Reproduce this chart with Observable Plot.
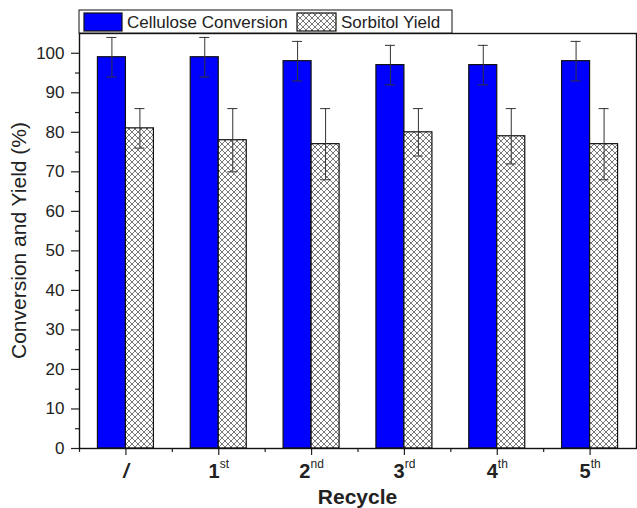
<!DOCTYPE html>
<html>
<head>
<meta charset="utf-8">
<script src="https://cdn.jsdelivr.net/npm/d3@7"></script>
<script src="https://cdn.jsdelivr.net/npm/@observablehq/plot@0.6"></script>
<style>
  html, body { margin: 0; padding: 0; background: white; }
</style>
</head>
<body>
<div id="chart"></div>
<script>
const categories = ["/", "1st", "2nd", "3rd", "4th", "5th"];
const conversion = [99, 99, 98, 97, 97, 98];
const conversionErr = [5, 5, 5, 5, 5, 5];
const sorbitol = [81, 78, 77, 80, 79, 77];
const sorbitolErr = [5, 8, 9, 6, 7, 9];
const seriesNames = ["Cellulose Conversion", "Sorbitol Yield"];
const yTicks = [0, 10, 20, 30, 40, 50, 60, 70, 80, 90, 100];
const yMinorTicks = [5, 15, 25, 35, 45, 55, 65, 75, 85, 95];
const yLabel = "Conversion and Yield (%)";
const xLabel = "Recycle";

const rows = categories.map((c, i) => ({
  cat: c, conv: conversion[i], convErr: conversionErr[i],
  sorb: sorbitol[i], sorbErr: sorbitolErr[i]
}));

const W = 637, H = 508, ML = 79, MR = 1, MT = 33, MB = 60;
const bw = (W - ML - MR) / categories.length;
const barW = 28, capHalf = 5;
const FONT = "'Liberation Sans', Arial, sans-serif";
const HATCH = "url(#hatch)";

const svg = Plot.plot({
  width: W, height: H,
  marginLeft: ML, marginRight: MR, marginTop: MT, marginBottom: MB,
  style: { fontFamily: FONT, background: "white", color: "#222" },
  x: { domain: categories, padding: 0, round: false, label: null },
  y: { domain: [0, 105], label: null },
  marks: [
    Plot.barY(rows, { x: "cat", y: "conv", fill: "#0000ff", stroke: "#111", strokeWidth: 1.2,
      insetLeft: bw / 2 - barW, insetRight: bw / 2 }),
    Plot.barY(rows, { x: "cat", y: "sorb", fill: HATCH, stroke: "#111", strokeWidth: 1.2,
      insetLeft: bw / 2, insetRight: bw / 2 - barW }),
    Plot.ruleX(rows, { x: "cat", y1: d => d.conv - d.convErr, y2: d => d.conv + d.convErr,
      dx: -barW / 2, stroke: "#333", strokeWidth: 1 }),
    Plot.tickY(rows, { x: "cat", y: d => d.conv + d.convErr, stroke: "#333", strokeWidth: 1,
      insetLeft: bw / 2 - barW / 2 - capHalf, insetRight: bw / 2 + barW / 2 - capHalf }),
    Plot.tickY(rows, { x: "cat", y: d => d.conv - d.convErr, stroke: "#333", strokeWidth: 1,
      insetLeft: bw / 2 - barW / 2 - capHalf, insetRight: bw / 2 + barW / 2 - capHalf }),
    Plot.ruleX(rows, { x: "cat", y1: d => d.sorb - d.sorbErr, y2: d => d.sorb + d.sorbErr,
      dx: barW / 2, stroke: "#333", strokeWidth: 1 }),
    Plot.tickY(rows, { x: "cat", y: d => d.sorb + d.sorbErr, stroke: "#333", strokeWidth: 1,
      insetLeft: bw / 2 + barW / 2 - capHalf, insetRight: bw / 2 - barW / 2 - capHalf }),
    Plot.tickY(rows, { x: "cat", y: d => d.sorb - d.sorbErr, stroke: "#333", strokeWidth: 1,
      insetLeft: bw / 2 + barW / 2 - capHalf, insetRight: bw / 2 - barW / 2 - capHalf }),
    Plot.axisY(yTicks, { tickSize: 8, tickPadding: 7, fontSize: 17, stroke: "#222", strokeWidth: 1.2, label: null }),
    Plot.axisY(yMinorTicks, { tickSize: 4, tickFormat: () => "", stroke: "#222", strokeWidth: 1.2, label: null }),
    Plot.axisX({ tickSize: 7, tickPadding: 8, fontSize: 20, fontWeight: "bold", stroke: "#222", strokeWidth: 1.2, label: null }),
    Plot.axisX({ tickSize: 4, tickFormat: () => "", dx: -bw / 2, stroke: "#222", strokeWidth: 1.2, label: null }),
    Plot.frame({ stroke: "#111", strokeWidth: 1.4 })
  ]
});

const s = d3.select(svg);
const defs = s.insert("defs", ":first-child");
const pat = defs.append("pattern").attr("id", "hatch").attr("patternUnits", "userSpaceOnUse")
  .attr("width", 6).attr("height", 6);
pat.append("rect").attr("width", 6).attr("height", 6).attr("fill", "white");
pat.append("path").attr("d", "M0,0L6,6M6,0L0,6M-1,5L1,7M5,-1L7,1M-1,1L1,-1M5,7L7,5")
  .attr("stroke", "#555").attr("stroke-width", 0.8).attr("fill", "none");

// superscript ordinal tick labels
s.selectAll('g[aria-label="x-axis tick label"] text').each(function () {
  const t = d3.select(this);
  const txt = t.text();
  const m = /^(\d)(\D+)$/.exec(txt);
  if (m) {
    t.text("");
    t.append("tspan").text(m[1]);
    t.append("tspan").attr("font-size", 12).attr("font-weight", "normal").attr("dy", "-0.8em").text(m[2]);
  } else if (txt === "/") {
    t.attr("font-style", "italic");
  }
});

// axis titles
s.append("text").attr("transform", `translate(20,${(MT + H - MB) / 2}) rotate(-90)`)
  .attr("text-anchor", "middle").attr("dominant-baseline", "middle")
  .attr("font-family", FONT).attr("font-size", 21).attr("fill", "#222").text(yLabel);
s.append("text").attr("x", (ML + W - MR) / 2).attr("y", 504)
  .attr("text-anchor", "middle").attr("font-family", FONT).attr("font-size", 21)
  .attr("font-weight", "bold").attr("fill", "#222").text(xLabel);

// legend
const lg = s.append("g").attr("text-anchor", "start");
lg.append("rect").attr("x", 79).attr("y", 10).attr("width", 373).attr("height", 23)
  .attr("fill", "white").attr("stroke", "#111").attr("stroke-width", 1);
lg.append("rect").attr("x", 84).attr("y", 13).attr("width", 38).attr("height", 18)
  .attr("fill", "#0000ff").attr("stroke", "#111").attr("stroke-width", 1.2);
lg.append("text").attr("x", 127).attr("y", 28).attr("text-anchor", "start").attr("font-family", FONT).attr("font-size", 17)
  .attr("fill", "#222").text(seriesNames[0]);
lg.append("rect").attr("x", 297).attr("y", 13).attr("width", 39).attr("height", 18)
  .attr("fill", HATCH).attr("stroke", "#111").attr("stroke-width", 1.2);
lg.append("text").attr("x", 341).attr("y", 28).attr("text-anchor", "start").attr("font-family", FONT).attr("font-size", 17)
  .attr("fill", "#222").text(seriesNames[1]);

document.getElementById("chart").appendChild(svg);
</script>
</body>
</html>
